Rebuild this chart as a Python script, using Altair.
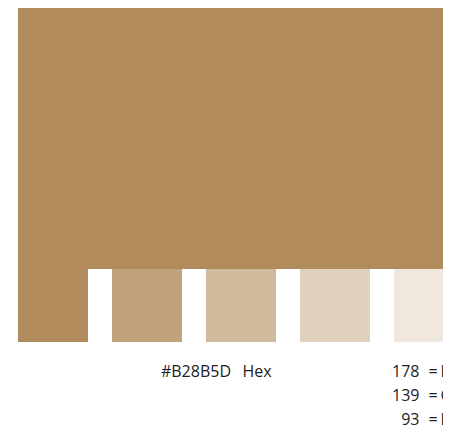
import altair as alt
import pandas as pd

# ---- data ----
tints = ["100%", "80%", "60%", "40%", "20%"]
tint_colors = ["#B28B5D", "#C1A27D", "#D1B99E", "#E0D1BE", "#F0E8DF"]
hex_code = "#B28B5D"
hex_label = "Hex"
rgb_channels = ["R", "G", "B"]
rgb_values = [178, 139, 93]

base_color = tint_colors[0]
FONT = "Open Sans"
TXT = "#222222"
FS = 16

swatch_df = pd.DataFrame({"tint": tints, "color": tint_colors})
rgb_df = pd.DataFrame({"channel": rgb_channels,
                       "value": [str(v) for v in rgb_values],
                       "eq": ["="] * len(rgb_channels)})
hex_df = pd.DataFrame({"code": [hex_code], "label": [hex_label], "color": [base_color]})

x_start, x_end = 10, 456
top_sw, bot_sw = 261, 334

# big colour field
big = alt.Chart(hex_df).mark_rect().encode(
    x=alt.value(x_start), x2=alt.value(x_end), y=alt.value(0), y2=alt.value(top_sw),
    color=alt.Color("color:N", scale=None),
)

# tint swatches
sw = alt.Chart(swatch_df).mark_rect().encode(
    x=alt.X("tint:N", sort=tints, axis=None,
            scale=alt.Scale(range=[x_start, x_end], paddingInner=24 / 94, paddingOuter=0)),
    y=alt.value(top_sw), y2=alt.value(bot_sw),
    color=alt.Color("color:N", scale=None),
)

txt = dict(baseline="alphabetic", font=FONT, fontSize=FS, color=TXT)

hex_code_t = alt.Chart(hex_df).mark_text(align="right", **txt).encode(
    x=alt.value(223), y=alt.value(369), text="code:N")
hex_lab_t = alt.Chart(hex_df).mark_text(align="left", **txt).encode(
    x=alt.value(234.5), y=alt.value(369), text="label:N")

ysc = alt.Y("channel:N", sort=rgb_channels, axis=None,
            scale=alt.Scale(type="point", range=[369, 416.5], padding=0))
num_t = alt.Chart(rgb_df).mark_text(align="right", **txt).encode(
    x=alt.value(411.5), y=ysc, text="value:N")
eq_t = alt.Chart(rgb_df).mark_text(align="center", **txt).encode(
    x=alt.value(425), y=ysc, text="eq:N")
ch_t = alt.Chart(rgb_df).mark_text(align="left", **txt).encode(
    x=alt.value(432.5), y=ysc, text="channel:N")

chart = alt.layer(big, sw, hex_code_t, hex_lab_t, num_t, eq_t, ch_t).properties(
    width=435, height=421,
    autosize=alt.AutoSizeParams(type="none"),
    padding=0,
).configure_view(stroke=None)

chart.save("out.html", embed_options={"renderer": "svg", "actions": False})
